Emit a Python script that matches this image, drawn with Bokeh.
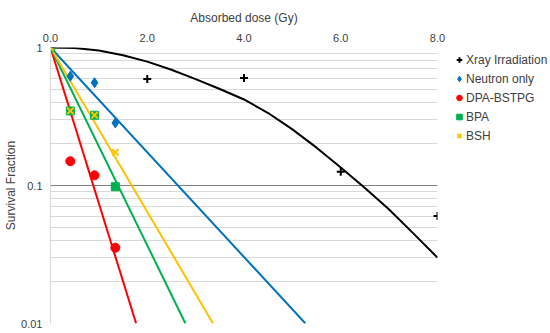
from bokeh.plotting import figure
from bokeh.models import FixedTicker, Legend, LegendItem, CustomJSTickFormatter
from bokeh.embed import file_html
from bokeh.resources import INLINE

# ---- data ----
xray_dose = [0, 2, 4, 6, 8]
xray_sf = [1.0, 0.59, 0.60, 0.126, 0.060]

neutron_dose = [0, 0.41, 0.91, 1.34]
neutron_sf = [1.0, 0.62, 0.556, 0.284]

dpa_dose = [0, 0.41, 0.91, 1.34]
dpa_sf = [1.0, 0.150, 0.1185, 0.0354]

bpa_dose = [0, 0.41, 0.91, 1.34]
bpa_sf = [1.0, 0.347, 0.323, 0.098]

bsh_dose = [0, 0.41, 0.91, 1.34]
bsh_sf = [1.0, 0.347, 0.323, 0.174]

# fitted curves
xray_fit_dose = [0, 0.5, 1, 1.5, 2, 2.5, 3, 3.5, 4, 4.5, 5, 5.5, 6, 6.5, 7, 7.5, 8]
xray_fit_sf = [1.0, 0.99, 0.95, 0.88, 0.79, 0.69, 0.59, 0.50, 0.42, 0.335, 0.255,
               0.188, 0.135, 0.096, 0.067, 0.045, 0.030]
neutron_fit_dose = [0, 5.27]
neutron_fit_sf = [1.0, 0.01]
dpa_fit_dose = [0, 1.77]
dpa_fit_sf = [1.0, 0.01]
bpa_fit_dose = [0, 2.79]
bpa_fit_sf = [1.0, 0.01]
bsh_fit_dose = [0, 3.36]
bsh_fit_sf = [1.0, 0.01]

x_ticks = [0, 2, 4, 6, 8]
y_ticks = [0.01, 0.1, 1]
y_minor = [0.02, 0.03, 0.04, 0.05, 0.06, 0.07, 0.08, 0.09,
           0.2, 0.3, 0.4, 0.5, 0.6, 0.7, 0.8, 0.9, 1.0]

FONT = "Liberation Sans"
TXT = "#404040"
BLACK = "#000000"
BLUE = "#0070C0"
RED = "#FF0000"
GREEN = "#00B050"
YELLOW = "#FFC000"

FW, FH = 387, 276

p = figure(frame_width=FW, frame_height=FH, x_range=(0, 8), y_range=(0.01, 1),
           y_axis_type="log", x_axis_location="above",
           output_backend="svg", toolbar_location=None,
           min_border_left=50, min_border_top=47, min_border_bottom=10,
           min_border_right=113)
p.outline_line_color = None
p.background_fill_color = "white"

# axes
p.xaxis.ticker = FixedTicker(ticks=x_ticks)
p.xaxis.formatter = CustomJSTickFormatter(code="return tick.toFixed(1);")
p.yaxis.ticker = FixedTicker(ticks=y_ticks)
p.yaxis.formatter = CustomJSTickFormatter(code="return tick.toString();")
for ax in (p.xaxis[0], p.yaxis[0]):
    ax.major_tick_line_color = None
    ax.minor_tick_line_color = None
    ax.major_tick_out = 0
    ax.major_tick_in = 0
    ax.major_label_text_font = FONT
    ax.major_label_text_font_size = "11px"
    ax.major_label_text_color = TXT
    ax.axis_label_text_font = FONT
    ax.axis_label_text_font_size = "12px"
    ax.axis_label_text_font_style = "normal"
    ax.axis_label_text_color = TXT
p.xaxis.axis_line_color = None
p.yaxis.axis_line_color = "#d9d9d9"
p.xaxis.axis_label = "Absorbed dose (Gy)"
p.yaxis.axis_label = "Survival Fraction"
p.xaxis.major_label_standoff = 6
p.xaxis.axis_label_standoff = 6
p.yaxis.major_label_standoff = 8
p.yaxis.axis_label_standoff = 0

# grids
p.xgrid.grid_line_color = None
p.ygrid.ticker = FixedTicker(ticks=[0.01, 0.1], minor_ticks=y_minor)
p.ygrid.grid_line_color = "#7f7f7f"
p.ygrid.grid_line_width = 1
p.ygrid.minor_grid_line_color = "#d9d9d9"
p.ygrid.minor_grid_line_width = 1

# fit lines
p.line(xray_fit_dose, xray_fit_sf, line_color=BLACK, line_width=2)
p.line(neutron_fit_dose, neutron_fit_sf, line_color=BLUE, line_width=2)
p.line(dpa_fit_dose, dpa_fit_sf, line_color=RED, line_width=2)
p.line(bpa_fit_dose, bpa_fit_sf, line_color=GREEN, line_width=2)
p.line(bsh_fit_dose, bsh_fit_sf, line_color=YELLOW, line_width=2)

# markers
r_x = p.scatter(xray_dose, xray_sf, marker="cross", size=8, line_color=BLACK, line_width=2)
r_n = p.scatter(neutron_dose, neutron_sf, marker="diamond", size=10,
                fill_color=BLUE, line_color=BLUE)
r_d = p.scatter(dpa_dose, dpa_sf, marker="circle", size=9, fill_color=RED, line_color=RED)
r_b = p.scatter(bpa_dose, bpa_sf, marker="square", size=8, fill_color=GREEN, line_color=GREEN)
r_s = p.scatter(bsh_dose, bsh_sf, marker="x", size=9, line_color=YELLOW, line_width=2)

legend = Legend(items=[
    LegendItem(label="Xray Irradiation", renderers=[r_x]),
    LegendItem(label="Neutron only", renderers=[r_n]),
    LegendItem(label="DPA-BSTPG", renderers=[r_d]),
    LegendItem(label="BPA", renderers=[r_b]),
    LegendItem(label="BSH", renderers=[r_s]),
], location=(15, 178), margin=0, padding=0, spacing=0,
    glyph_width=14, glyph_height=19, label_height=19, label_standoff=0,
    label_text_font=FONT, label_text_font_size="12px", label_text_color=TXT,
    border_line_color=None, background_fill_alpha=0)
p.add_layout(legend, "right")

open("out.html", "w").write(file_html(p, INLINE))
